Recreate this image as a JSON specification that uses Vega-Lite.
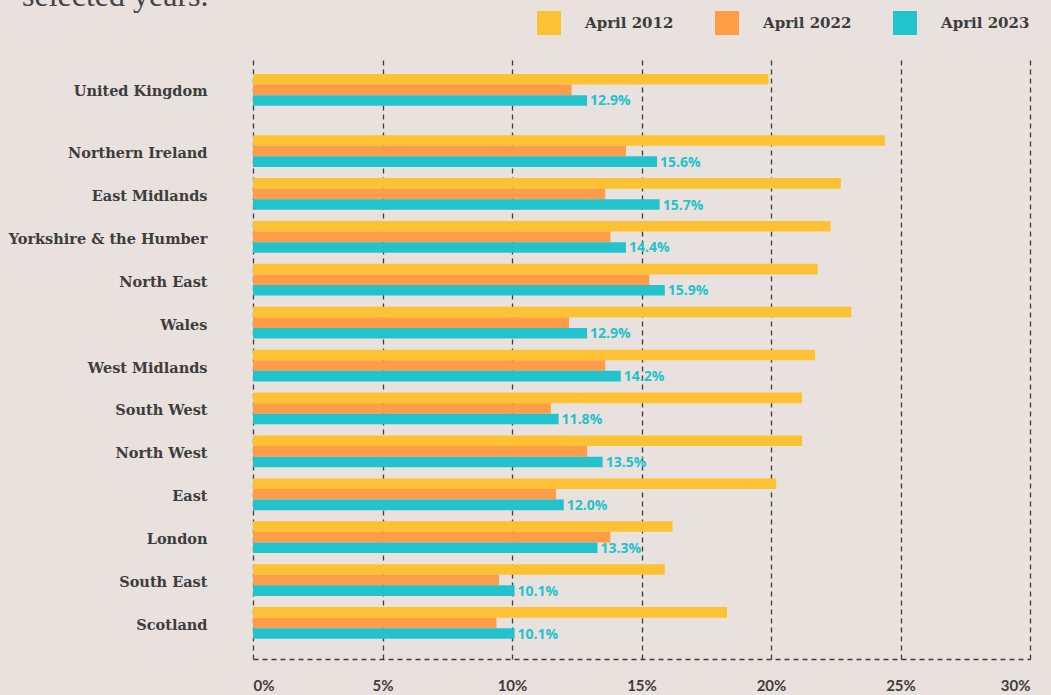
{
  "$schema": "https://vega.github.io/schema/vega-lite/v6.json",
  "autosize": {"type": "none"},
  "padding": {"left": 253, "top": 56, "right": 21, "bottom": 36},
  "width": 777,
  "height": 603,
  "background": "#e8e1de",
  "title": {
    "text": "selected years.",
    "anchor": "start",
    "frame": "group",
    "orient": "top",
    "dx": -231,
    "offset": -27,
    "baseline": "alphabetic",
    "font": "Liberation Serif",
    "fontSize": 32,
    "fontWeight": "normal",
    "color": "#444444"
  },
  "data": {
    "values": [
      {"region": "United Kingdom", "year": "April 2012", "value": 0.199},
      {"region": "United Kingdom", "year": "April 2022", "value": 0.123},
      {"region": "United Kingdom", "year": "April 2023", "value": 0.129},
      {"region": "Northern Ireland", "year": "April 2012", "value": 0.244},
      {"region": "Northern Ireland", "year": "April 2022", "value": 0.144},
      {"region": "Northern Ireland", "year": "April 2023", "value": 0.156},
      {"region": "East Midlands", "year": "April 2012", "value": 0.227},
      {"region": "East Midlands", "year": "April 2022", "value": 0.136},
      {"region": "East Midlands", "year": "April 2023", "value": 0.157},
      {"region": "Yorkshire & the Humber", "year": "April 2012", "value": 0.223},
      {"region": "Yorkshire & the Humber", "year": "April 2022", "value": 0.138},
      {"region": "Yorkshire & the Humber", "year": "April 2023", "value": 0.144},
      {"region": "North East", "year": "April 2012", "value": 0.218},
      {"region": "North East", "year": "April 2022", "value": 0.153},
      {"region": "North East", "year": "April 2023", "value": 0.159},
      {"region": "Wales", "year": "April 2012", "value": 0.231},
      {"region": "Wales", "year": "April 2022", "value": 0.122},
      {"region": "Wales", "year": "April 2023", "value": 0.129},
      {"region": "West Midlands", "year": "April 2012", "value": 0.217},
      {"region": "West Midlands", "year": "April 2022", "value": 0.136},
      {"region": "West Midlands", "year": "April 2023", "value": 0.142},
      {"region": "South West", "year": "April 2012", "value": 0.212},
      {"region": "South West", "year": "April 2022", "value": 0.115},
      {"region": "South West", "year": "April 2023", "value": 0.118},
      {"region": "North West", "year": "April 2012", "value": 0.212},
      {"region": "North West", "year": "April 2022", "value": 0.129},
      {"region": "North West", "year": "April 2023", "value": 0.135},
      {"region": "East", "year": "April 2012", "value": 0.202},
      {"region": "East", "year": "April 2022", "value": 0.117},
      {"region": "East", "year": "April 2023", "value": 0.120},
      {"region": "London", "year": "April 2012", "value": 0.162},
      {"region": "London", "year": "April 2022", "value": 0.138},
      {"region": "London", "year": "April 2023", "value": 0.133},
      {"region": "South East", "year": "April 2012", "value": 0.159},
      {"region": "South East", "year": "April 2022", "value": 0.095},
      {"region": "South East", "year": "April 2023", "value": 0.101},
      {"region": "Scotland", "year": "April 2012", "value": 0.183},
      {"region": "Scotland", "year": "April 2022", "value": 0.094},
      {"region": "Scotland", "year": "April 2023", "value": 0.101}
    ]
  },
  "encoding": {
    "x": {
      "field": "value",
      "type": "quantitative",
      "scale": {"domain": [0, 0.3], "nice": false, "zero": true},
      "axis": {
        "title": null,
        "values": [0, 0.05, 0.1, 0.15, 0.2, 0.25, 0.3],
        "format": ".0%",
        "grid": false,
        "ticks": true,
        "tickSize": -603,
        "tickDash": [5, 4],
        "tickColor": "#3d3d3d",
        "tickWidth": 1.3,
        "tickOpacity": 1,
        "domain": true,
        "domainDash": [5, 4],
        "domainColor": "#3d3d3d",
        "domainWidth": 1.3,
        "labelPadding": 622,
        "labelFont": "Lato",
        "labelFontWeight": "bold",
        "labelFontSize": 15,
        "labelColor": "#3d3d3d"
      }
    }
  },
  "layer": [
    {
      "transform": [{"filter": "datum.region == 'United Kingdom'"}],
      "encoding": {
        "y": {
          "field": "region",
          "type": "nominal",
          "scale": {"range": [0, 67.7], "paddingInner": 0.26, "paddingOuter": 0.42},
          "axis": {
            "orient": "left",
            "title": null,
            "domain": false,
            "ticks": false,
            "grid": false,
            "labelPadding": 46,
            "labelLimit": 400,
            "labelOffset": 2,
            "labelFont": "DejaVu Serif",
            "labelFontWeight": "bold",
            "labelFontSize": 14.5,
            "labelColor": "#3d3d3d"
          }
        },
        "yOffset": {
          "field": "year",
          "type": "nominal",
          "scale": {"domain": ["April 2012", "April 2022", "April 2023"], "paddingInner": 0, "paddingOuter": 0}
        }
      },
      "layer": [
        {
          "mark": {"type": "bar"},
          "encoding": {
            "color": {
              "field": "year",
              "type": "nominal",
              "scale": {"domain": ["April 2012", "April 2022", "April 2023"], "range": ["#fdc134", "#fe9c48", "#22c3cc"]},
              "legend": {
                "title": null,
                "orient": "none",
                "direction": "horizontal",
                "columns": 3,
                "legendX": 284,
                "legendY": -45,
                "symbolType": "square",
                "symbolSize": 576,
                "symbolStrokeWidth": 0,
                "symbolOpacity": 1,
                "labelOffset": 24,
                "columnPadding": 41,
                "labelFont": "DejaVu Serif",
                "labelFontWeight": "bold",
                "labelFontSize": 15,
                "labelColor": "#3d3d3d",
                "padding": 0
              }
            }
          }
        },
        {
          "transform": [{"filter": "datum.year == 'April 2023'"}],
          "mark": {"type": "text", "align": "left", "baseline": "middle", "dx": 3, "dy": 1, "font": "Open Sans", "fontWeight": "bold", "fontSize": 14, "color": "#22c3cc"},
          "encoding": {
            "text": {"field": "value", "type": "quantitative", "format": ".1%"}
          }
        }
      ]
    },
    {
      "transform": [{"filter": "datum.region != 'United Kingdom'"}],
      "encoding": {
        "y": {
          "field": "region",
          "type": "nominal",
          "sort": ["Northern Ireland", "East Midlands", "Yorkshire & the Humber", "North East", "Wales", "West Midlands", "South West", "North West", "East", "London", "South East", "Scotland"],
          "scale": {"range": [59, 603], "paddingInner": 0.26, "paddingOuter": 0.47},
          "axis": {
            "orient": "left",
            "title": null,
            "domain": false,
            "ticks": false,
            "grid": false,
            "labelPadding": 46,
            "labelLimit": 400,
            "labelOffset": 3,
            "labelFont": "DejaVu Serif",
            "labelFontWeight": "bold",
            "labelFontSize": 14.5,
            "labelColor": "#3d3d3d"
          }
        },
        "yOffset": {
          "field": "year",
          "type": "nominal",
          "scale": {"domain": ["April 2012", "April 2022", "April 2023"], "paddingInner": 0, "paddingOuter": 0}
        }
      },
      "layer": [
        {
          "mark": {"type": "bar"},
          "encoding": {
            "color": {
              "field": "year",
              "type": "nominal",
              "scale": {"domain": ["April 2012", "April 2022", "April 2023"], "range": ["#fdc134", "#fe9c48", "#22c3cc"]}
            }
          }
        },
        {
          "transform": [{"filter": "datum.year == 'April 2023'"}],
          "mark": {"type": "text", "align": "left", "baseline": "middle", "dx": 3, "dy": 1, "font": "Open Sans", "fontWeight": "bold", "fontSize": 14, "color": "#22c3cc"},
          "encoding": {
            "text": {"field": "value", "type": "quantitative", "format": ".1%"}
          }
        }
      ]
    }
  ],
  "resolve": {
    "scale": {"y": "independent", "yOffset": "independent"},
    "axis": {"y": "independent"}
  },
  "config": {
    "view": {"stroke": null}
  }
}
